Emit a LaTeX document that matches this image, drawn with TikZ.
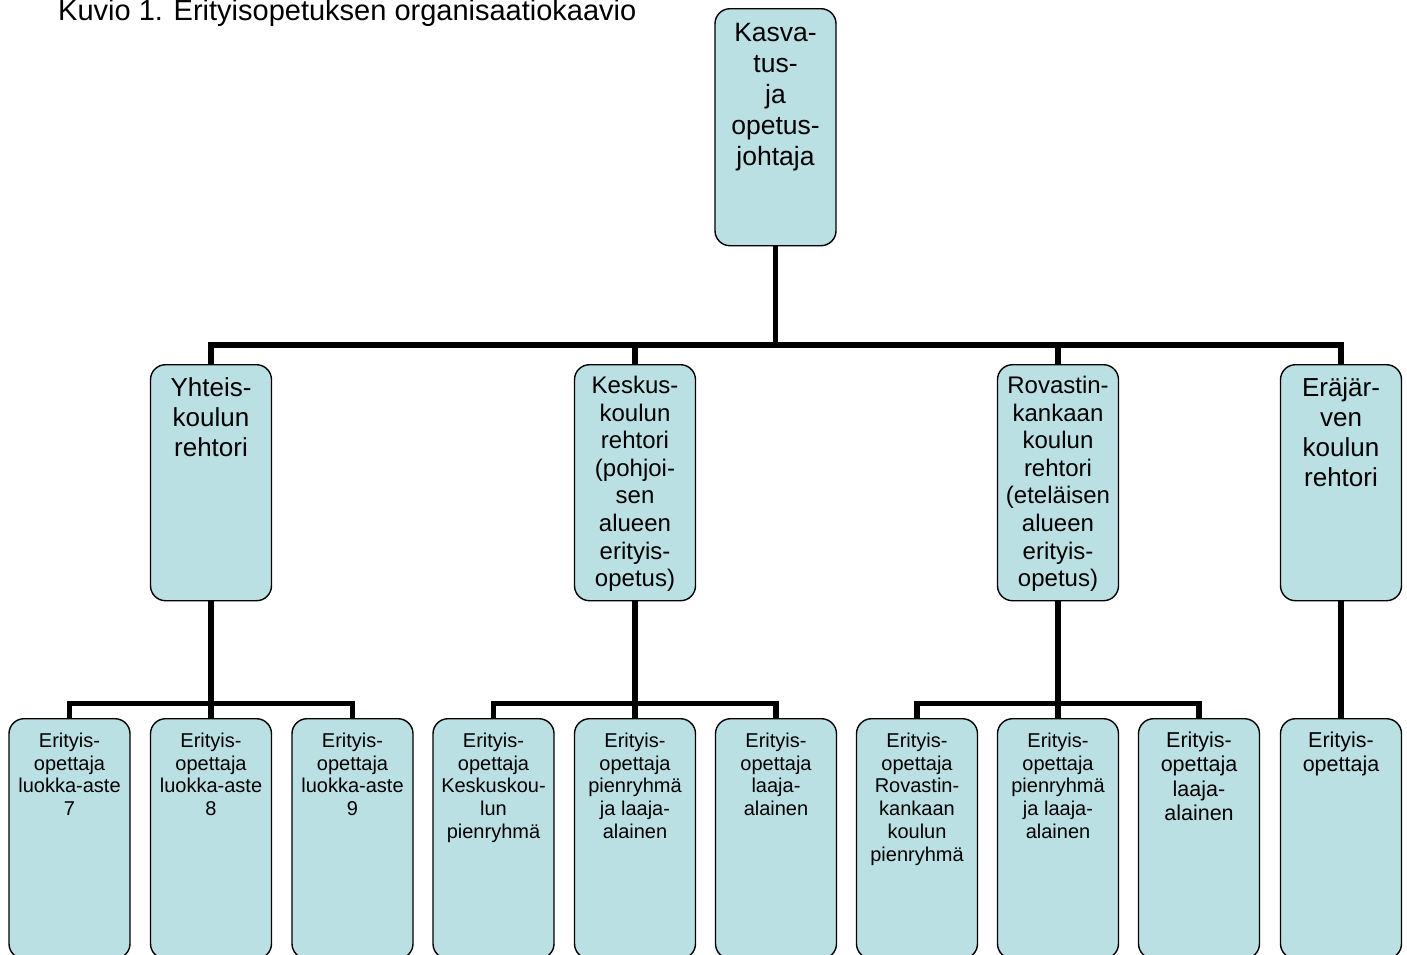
\documentclass[tikz,border=0pt]{standalone}
\usepackage{fontspec}
\setmainfont{Liberation Sans}
\usetikzlibrary{backgrounds}
\definecolor{boxfill}{RGB}{186,224,227}
\tikzset{
  orgbox/.style={draw=black, line width=1.4pt, fill=boxfill, rounded corners=15pt,
    minimum width=121pt, inner sep=0pt, anchor=north, shape=rectangle},
  lbl/.style={anchor=north, inner sep=0pt, align=center, text=black},
  topfont/.style={font=\fontsize{26.5}{31}\selectfont},
  bigfont/.style={font=\fontsize{26}{30}\selectfont},
  midfont/.style={font=\fontsize{24}{27.6}\selectfont},
  smallfont/.style={font=\fontsize{20}{22.7}\selectfont},
  smallbfont/.style={font=\fontsize{21.5}{24.5}\selectfont},
  conn/.style={line width=5.5pt, draw=black, line join=miter}
}
\begin{document}
\begin{tikzpicture}[x=1pt,y=-1pt]
\useasboundingbox (0,0) rectangle (1407,954);
% title
\node[anchor=base west, inner sep=0pt, font=\fontsize{29}{33}\selectfont] (title) at (58,20.7) {Kuvio 1. Erityisopetuksen organisaatiokaavio};
% boxes
\node[orgbox, minimum height=237pt] (top) at (775.5,8) {};
\node[orgbox, minimum height=236pt] (m1) at (211,364) {};
\node[orgbox, minimum height=236pt] (m2) at (635,364) {};
\node[orgbox, minimum height=236pt] (m3) at (1058,364) {};
\node[orgbox, minimum height=236pt] (m4) at (1341,364) {};
\foreach \n/\x in {b1/69.5,b2/211,b3/352.5,b4/493.5,b5/635,b6/776,b7/917,b8/1058,b9/1199,b10/1341}{
  \node[orgbox, minimum height=240pt] (\n) at (\x,718) {};
}
% texts
\node[lbl, topfont] (topT) at ([yshift=-11.3pt]top.north) {\strut Kasva-\\tus-\\ja\\opetus-\\johtaja};
\node[lbl, bigfont] (m1T) at ([yshift=-11pt]m1.north) {\strut Yhteis-\\koulun\\rehtori};
\node[lbl, midfont] (m2T) at ([yshift=-10pt]m2.north) {\strut Keskus-\\koulun\\rehtori\\(pohjoi-\\sen\\alueen\\erityis-\\opetus)};
\node[lbl, midfont] (m3T) at ([yshift=-10pt]m3.north) {\strut Rovastin-\\kankaan\\koulun\\rehtori\\(eteläisen\\alueen\\erityis-\\opetus)};
\node[lbl, bigfont] (m4T) at ([yshift=-11pt]m4.north) {\strut Eräjär-\\ven\\koulun\\rehtori};
\node[lbl, smallfont] (b1T) at ([yshift=-13.4pt]b1.north) {\strut Erityis-\\opettaja\\luokka-aste\\7};
\node[lbl, smallfont] (b2T) at ([yshift=-13.4pt]b2.north) {\strut Erityis-\\opettaja\\luokka-aste\\8};
\node[lbl, smallfont] (b3T) at ([yshift=-13.4pt]b3.north) {\strut Erityis-\\opettaja\\luokka-aste\\9};
\node[lbl, smallfont] (b4T) at ([yshift=-13.4pt]b4.north) {\strut Erityis-\\opettaja\\Keskuskou-\\lun\\pienryhmä};
\node[lbl, smallfont] (b5T) at ([yshift=-13.4pt]b5.north) {\strut Erityis-\\opettaja\\pienryhmä\\ja laaja-\\alainen};
\node[lbl, smallfont] (b6T) at ([yshift=-13.4pt]b6.north) {\strut Erityis-\\opettaja\\laaja-\\alainen};
\node[lbl, smallfont] (b7T) at ([yshift=-13.4pt]b7.north) {\strut Erityis-\\opettaja\\Rovastin-\\kankaan\\koulun\\pienryhmä};
\node[lbl, smallfont] (b8T) at ([yshift=-13.4pt]b8.north) {\strut Erityis-\\opettaja\\pienryhmä\\ja laaja-\\alainen};
\node[lbl, smallbfont] (b9T) at ([yshift=-11.9pt]b9.north) {\strut Erityis-\\opettaja\\laaja-\\alainen};
\node[lbl, smallbfont] (b10T) at ([yshift=-11.9pt]b10.north) {\strut Erityis-\\opettaja};
% bar levels
\coordinate (hbTop) at (0,345);
\coordinate (hbLow) at (0,703.5);
\begin{scope}[on background layer]
\foreach \c in {m1,m2,m3,m4}{
  \draw[conn] (top.south) -- (top.south |- hbTop) -| (\c.north);
}
\foreach \p/\c in {m1/b1,m1/b2,m1/b3,m2/b4,m2/b5,m2/b6,m3/b7,m3/b8,m3/b9}{
  \draw[conn] (\p.south) -- (\p.south |- hbLow) -| (\c.north);
}
\draw[conn] (m4.south) -- (b10.north);
\end{scope}
\end{tikzpicture}
\end{document}
